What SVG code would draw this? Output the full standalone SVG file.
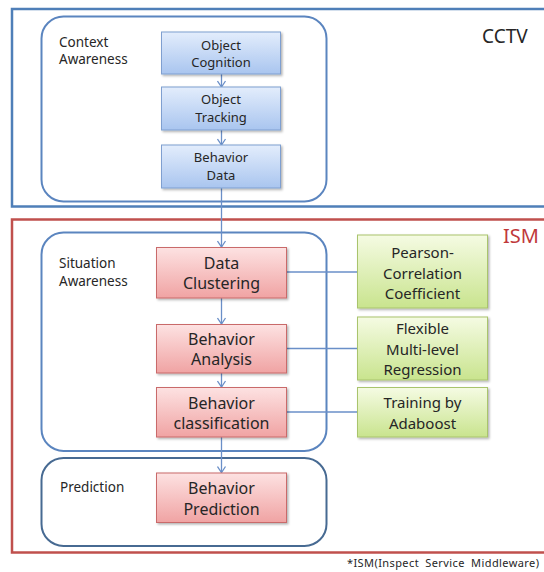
<svg xmlns="http://www.w3.org/2000/svg" width="544" height="572" viewBox="0 0 544 572">
<style>
text{font-family:"Noto Sans","Open Sans","Liberation Sans",sans-serif;fill:#262626}
.lbl{font-size:13.5px}
.bt{font-size:13px;text-anchor:middle}
.rt{font-size:16px;text-anchor:middle}
.gt{font-size:15px;text-anchor:middle}
.blue{fill:url(#gb);stroke:#7f9fd0;stroke-width:1}
.red{fill:url(#gr);stroke:#c96b6b;stroke-width:1}
.green{fill:url(#gg);stroke:#a9c46c;stroke-width:1}
.grp{fill:none;stroke:#5b85bf;stroke-width:2}
.con{fill:none;stroke:#6a8fc8;stroke-width:1.3}
</style>
<defs>
<linearGradient id="gb" x1="0" y1="0" x2="0" y2="1"><stop offset="0" stop-color="#e3edfc"/><stop offset="1" stop-color="#a9c5ef"/></linearGradient>
<linearGradient id="gr" x1="0" y1="0" x2="0" y2="1"><stop offset="0" stop-color="#fde2e2"/><stop offset="1" stop-color="#f0a3a3"/></linearGradient>
<linearGradient id="gg" x1="0" y1="0" x2="0" y2="1"><stop offset="0" stop-color="#f5fbe3"/><stop offset="1" stop-color="#c9e48e"/></linearGradient>
<filter id="sh" x="-10%" y="-10%" width="130%" height="130%"><feDropShadow dx="1.5" dy="1.5" stdDeviation="1.2" flood-color="#000" flood-opacity="0.3"/></filter>
<marker id="ar" markerWidth="8" markerHeight="10" refX="7" refY="5" orient="auto" markerUnits="userSpaceOnUse" viewBox="0 0 8 10"><path d="M1,1 L7,5 L1,9" fill="none" stroke="#6a8fc8" stroke-width="1.3"/></marker>
</defs>
<rect width="544" height="572" fill="#fff"/>

<g id="cctv">
<rect x="12" y="9" width="545" height="197.5" fill="none" stroke="#4f7fb8" stroke-width="2.5"/>
<text x="482" y="43" style="font-size:19px">CCTV</text>
</g>
<g id="ism">
<rect x="12" y="219.5" width="545" height="333" fill="none" stroke="#c0504d" stroke-width="2.5"/>
<text x="503" y="243" style="font-size:20px;fill:#c0393b">ISM</text>
</g>

<g id="context-awareness">
<rect class="grp" x="41.5" y="16.5" width="285" height="185" rx="22"/>
<text class="lbl" x="59" y="47">Context</text>
<text class="lbl" x="59" y="64">Awareness</text>
</g>
<g id="situation-awareness">
<rect class="grp" x="41.5" y="232.5" width="285" height="218.5" rx="22"/>
<text class="lbl" x="59" y="268">Situation</text>
<text class="lbl" x="59" y="286">Awareness</text>
</g>
<g id="prediction-group">
<rect x="41.5" y="458" width="285" height="88" rx="22" fill="none" stroke="#476a92" stroke-width="2"/>
<text class="lbl" x="60" y="492">Prediction</text>
</g>

<g id="connectors">
<line class="con" x1="221.5" y1="74" x2="221.5" y2="87" marker-end="url(#ar)"/>
<line class="con" x1="221.5" y1="130" x2="221.5" y2="145" marker-end="url(#ar)"/>
<line class="con" x1="221.5" y1="188" x2="221.5" y2="247" marker-end="url(#ar)"/>
<line class="con" x1="221.5" y1="298" x2="221.5" y2="324" marker-end="url(#ar)"/>
<line class="con" x1="221.5" y1="373" x2="221.5" y2="387" marker-end="url(#ar)"/>
<line class="con" x1="221.5" y1="437" x2="221.5" y2="472.5" marker-end="url(#ar)"/>
<line class="con" x1="286.5" y1="272" x2="357.5" y2="272"/>
<line class="con" x1="286.5" y1="348.5" x2="357.5" y2="348.5"/>
<line class="con" x1="286.5" y1="412" x2="357.5" y2="412"/>
</g>

<g id="object-cognition">
<rect class="blue" x="161.5" y="32" width="119" height="42" filter="url(#sh)"/>
<text class="bt" x="221" y="49.5">Object</text>
<text class="bt" x="221" y="66.5">Cognition</text>
</g>
<g id="object-tracking">
<rect class="blue" x="161.5" y="87" width="119" height="43" filter="url(#sh)"/>
<text class="bt" x="221" y="104">Object</text>
<text class="bt" x="221" y="121.5">Tracking</text>
</g>
<g id="behavior-data">
<rect class="blue" x="161.5" y="145" width="119" height="43" filter="url(#sh)"/>
<text class="bt" x="221" y="162">Behavior</text>
<text class="bt" x="221" y="179.5">Data</text>
</g>

<g id="data-clustering">
<rect class="red" x="156.5" y="247.5" width="130" height="50.5" filter="url(#sh)"/>
<text class="rt" x="221.5" y="268.5">Data</text>
<text class="rt" x="221.5" y="289">Clustering</text>
</g>
<g id="behavior-analysis">
<rect class="red" x="156.5" y="324.5" width="130" height="48.5" filter="url(#sh)"/>
<text class="rt" x="221.5" y="344.5">Behavior</text>
<text class="rt" x="221.5" y="365">Analysis</text>
</g>
<g id="behavior-classification">
<rect class="red" x="156.5" y="387.5" width="130" height="49.5" filter="url(#sh)"/>
<text class="rt" x="221.5" y="408.5">Behavior</text>
<text class="rt" x="221.5" y="429">classification</text>
</g>
<g id="behavior-prediction">
<rect class="red" x="156.5" y="473" width="130" height="49.5" filter="url(#sh)"/>
<text class="rt" x="221.5" y="494">Behavior</text>
<text class="rt" x="221.5" y="514.5">Prediction</text>
</g>

<g id="pearson">
<rect class="green" x="357.5" y="235" width="130" height="73" filter="url(#sh)"/>
<text class="gt" x="422.5" y="258">Pearson-</text>
<text class="gt" x="422.5" y="278.5">Correlation</text>
<text class="gt" x="422.5" y="299">Coefficient</text>
</g>
<g id="flexible">
<rect class="green" x="357.5" y="317" width="130" height="63" filter="url(#sh)"/>
<text class="gt" x="422.5" y="334">Flexible</text>
<text class="gt" x="422.5" y="354.5">Multi-level</text>
<text class="gt" x="422.5" y="375">Regression</text>
</g>
<g id="adaboost">
<rect class="green" x="357.5" y="387.5" width="130" height="49.5" filter="url(#sh)"/>
<text class="gt" x="422.5" y="407.5">Training  by</text>
<text class="gt" x="422.5" y="429">Adaboost</text>
</g>

<text x="347" y="567" style="font-size:11px;word-spacing:3px" textLength="192">*ISM(Inspect Service Middleware)</text>
</svg>
